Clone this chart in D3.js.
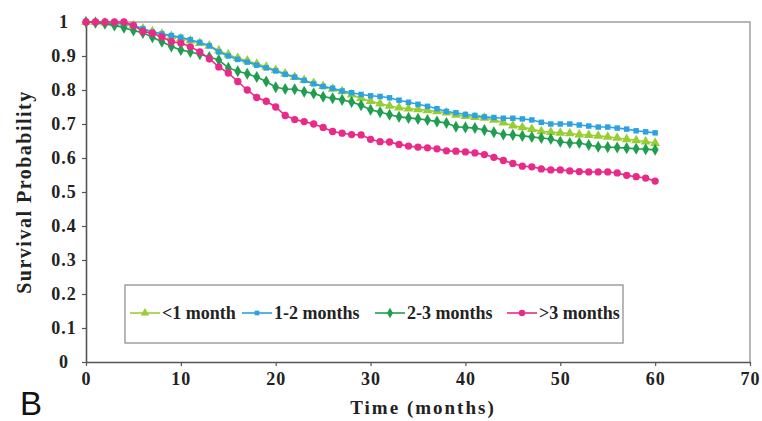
<!DOCTYPE html>
<html>
<head>
<meta charset="utf-8">
<script src="https://cdn.jsdelivr.net/npm/d3@7"></script>
<style>
  body { margin: 0; background: #fff; }
</style>
</head>
<body>
<div id="chart"></div>
<script>
// survival curves

let months = [0,1,2,3,4,5,6,7,8,9,10,11,12,13,14,15,16,17,18,19,20,
              21,22,23,24,25,26,27,28,29,30,31,32,33,34,35,36,37,38,39,40,
              41,42,43,44,45,46,47,48,49,50,51,52,53,54,55,56,57,58,59,60];

let lessThan1 = [1,1,0.998,0.996,0.995,0.99,0.98,0.972,0.965,0.958,0.952,0.945,0.938,0.93,0.916,
                 0.904,0.894,0.886,0.877,0.868,0.858,0.848,0.838,0.829,0.82,0.811,0.803,0.796,0.786,0.776,
                 0.767,0.76,0.753,0.748,0.745,0.743,0.74,0.737,0.733,0.727,0.723,0.72,0.718,0.712,0.704,
                 0.695,0.69,0.685,0.678,0.676,0.674,0.672,0.669,0.667,0.665,0.662,0.659,0.655,0.652,0.648,0.644];

let oneToTwo = [1,1,0.998,0.996,0.995,0.99,0.98,0.97,0.965,0.96,0.955,0.948,0.94,0.93,0.912,
                0.9,0.89,0.882,0.873,0.865,0.856,0.846,0.838,0.828,0.818,0.81,0.805,0.797,0.792,0.787,
                0.783,0.781,0.777,0.77,0.764,0.758,0.752,0.745,0.737,0.733,0.728,0.725,0.721,0.719,0.717,
                0.717,0.715,0.712,0.705,0.70,0.70,0.70,0.697,0.694,0.691,0.691,0.688,0.685,0.68,0.677,0.674];

let twoToThree = [1,0.998,0.995,0.99,0.983,0.975,0.968,0.955,0.942,0.928,0.918,0.912,0.905,0.897,0.888,
                  0.865,0.855,0.848,0.838,0.825,0.808,0.803,0.802,0.795,0.79,0.78,0.776,0.771,0.765,0.755,
                  0.742,0.735,0.727,0.721,0.718,0.715,0.712,0.707,0.703,0.692,0.69,0.688,0.682,0.676,0.669,
                  0.668,0.665,0.662,0.659,0.656,0.648,0.644,0.644,0.638,0.633,0.632,0.631,0.629,0.627,0.626,0.624];

let moreThan3 = [1,1,1,1,1,0.99,0.972,0.967,0.956,0.942,0.938,0.927,0.912,0.892,0.868,
                 0.85,0.825,0.80,0.778,0.767,0.75,0.725,0.713,0.707,0.70,0.69,0.678,0.673,0.669,0.668,
                 0.655,0.648,0.647,0.64,0.635,0.632,0.63,0.627,0.621,0.62,0.618,0.615,0.61,0.602,0.593,
                 0.584,0.576,0.574,0.568,0.565,0.565,0.562,0.56,0.559,0.559,0.559,0.556,0.549,0.545,0.541,0.532];

let seriesNames = ["<1 month", "1-2 months", "2-3 months", ">3 months"];
let seriesValues = [lessThan1, oneToTwo, twoToThree, moreThan3];
let seriesColors = ["#9acd32", "#2ba3e3", "#1f9e4f", "#ea2a88"];
let seriesShapes = [d3.symbolTriangle, d3.symbolSquare, d3.symbolDiamond, d3.symbolCircle];

let xTicks = [0,10,20,30,40,50,60,70];
let yTicks = [0,0.1,0.2,0.3,0.4,0.5,0.6,0.7,0.8,0.9,1];

let width = 762, height = 421;
let plotLeft = 86, plotRight = 750, plotTop = 22, plotBottom = 362;

let svg = d3.select("#chart").append("svg")
            .attr("width", width)
            .attr("height", height);

let x = d3.scaleLinear().domain([0, 70]).range([plotLeft, plotRight]);
let y = d3.scaleLinear().domain([0, 1]).range([plotBottom, plotTop]);

let serif = "'Liberation Serif', 'Times New Roman', serif";

// plot frame (top and right)
svg.append("path")
   .attr("d", `M${plotLeft},${plotTop}H${plotRight}V${plotBottom}`)
   .attr("fill", "none")
   .attr("stroke", "#a0a0a0")
   .attr("stroke-width", 1.5);

// axes
let xAxis = svg.append("g")
               .attr("transform", `translate(0,${plotBottom})`)
               .call(d3.axisBottom(x).tickValues(xTicks).tickSize(4).tickSizeOuter(0).tickFormat(d3.format("d")));
let yAxis = svg.append("g")
               .attr("transform", `translate(${plotLeft},0)`)
               .call(d3.axisLeft(y).tickValues(yTicks).tickSize(4).tickSizeOuter(0).tickFormat(d => d === 0 || d === 1 ? d : d.toFixed(1)));

[xAxis, yAxis].forEach(function (g) {
  g.select(".domain").attr("stroke", "#555").attr("stroke-width", 1.6);
  g.selectAll(".tick line").attr("stroke", "#555").attr("stroke-width", 1.2);
  g.selectAll("text")
   .attr("fill", "#222")
   .style("font-family", serif)
   .style("font-weight", "bold")
   .style("font-size", "18px")
   .style("letter-spacing", "1px");
});
xAxis.selectAll("text").attr("dy", "0.95em").attr("y", 6);
yAxis.selectAll("text").attr("text-anchor", "middle").attr("x", -22);

// series, drawn in order so the last one sits on top
seriesValues.forEach(function (vals, s) {
  let pts = months.map((m, i) => [m, vals[i]]);
  let line = d3.line().x(d => x(d[0])).y(d => y(d[1]));
  svg.append("path")
     .attr("d", line(pts))
     .attr("fill", "none")
     .attr("stroke", seriesColors[s])
     .attr("stroke-width", 1.6);
  svg.append("g").selectAll("path")
     .data(pts)
     .enter()
     .append("path")
     .attr("transform", d => `translate(${x(d[0])},${y(d[1])})`)
     .attr("d", d3.symbol().type(seriesShapes[s]).size(s === 1 ? 30 : 42))
     .attr("fill", seriesColors[s]);
});

// legend
let legend = svg.append("g");
legend.append("rect")
      .attr("x", 125).attr("y", 285)
      .attr("width", 498).attr("height", 58)
      .attr("fill", "#fff")
      .attr("stroke", "#a0a0a0")
      .attr("stroke-width", 1.5);

let legendX = [130, 242, 375, 507];
seriesNames.forEach(function (name, s) {
  let g = legend.append("g").attr("transform", `translate(${legendX[s]},313)`);
  g.append("line").attr("x1", 0).attr("x2", 30)
   .attr("stroke", seriesColors[s]).attr("stroke-width", 1.6);
  g.append("path")
   .attr("transform", "translate(15,0)")
   .attr("d", d3.symbol().type(seriesShapes[s]).size(s === 1 ? 22 : 32))
   .attr("fill", seriesColors[s]);
  g.append("text")
   .attr("x", 32).attr("y", 6)
   .text(name)
   .attr("fill", "#222")
   .style("font-family", serif)
   .style("font-weight", "bold")
   .style("font-size", "18px");
});

// axis titles
svg.append("text")
   .attr("x", 423).attr("y", 414)
   .attr("text-anchor", "middle")
   .text("Time (months)")
   .attr("fill", "#222")
   .style("font-family", serif)
   .style("font-weight", "bold")
   .style("font-size", "19px")
   .style("letter-spacing", "2px");

svg.append("text")
   .attr("transform", "translate(31,192) rotate(-90)")
   .attr("text-anchor", "middle")
   .text("Survival Probability")
   .attr("fill", "#222")
   .style("font-family", serif)
   .style("font-weight", "bold")
   .style("font-size", "20px")
   .style("letter-spacing", "1.5px");

// panel letter
svg.append("text")
   .attr("x", 20).attr("y", 415)
   .text("B")
   .attr("fill", "#111")
   .style("font-family", "'Liberation Sans', Arial, sans-serif")
   .style("font-size", "33px");
</script>
</body>
</html>
